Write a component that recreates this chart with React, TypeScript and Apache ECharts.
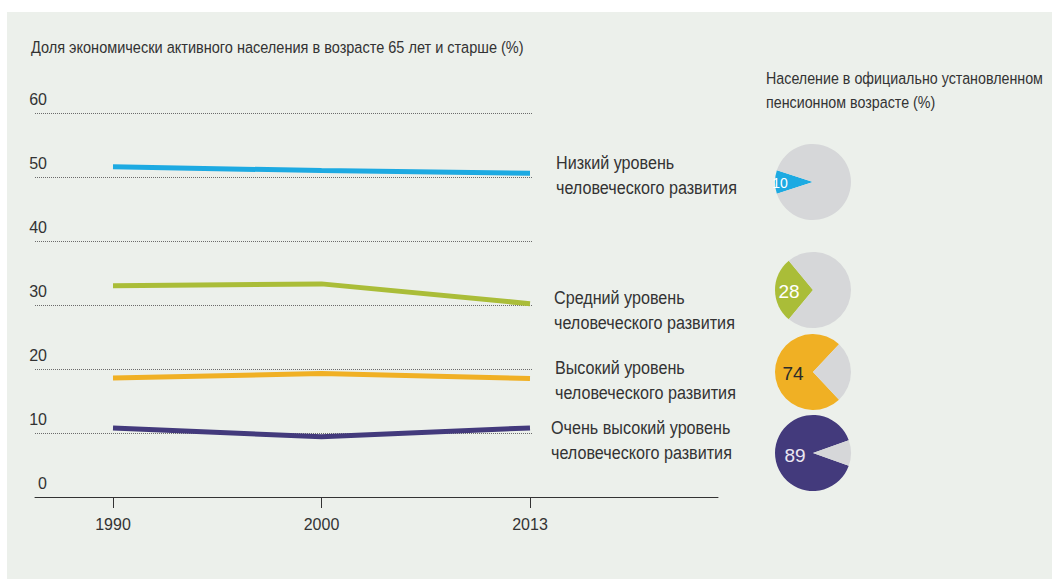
import React, { useEffect, useRef } from "react";
import * as echarts from "echarts";

const years = ["1990", "2000", "2013"];
const seriesNames = [
  "Низкий уровень\nчеловеческого развития",
  "Средний уровень\nчеловеческого развития",
  "Высокий уровень\nчеловеческого развития",
  "Очень высокий уровень\nчеловеческого развития",
];
const lowValues = [51.6, 51.0, 50.6];
const mediumValues = [33.0, 33.3, 30.2];
const highValues = [18.6, 19.3, 18.5];
const veryHighValues = [10.8, 9.4, 10.8];
const pensionShare = [10, 28, 74, 89];
const colors = ["#1DAAE2", "#AABD38", "#F0B024", "#433A7C"];
const pieLabelColors = ["#ffffff", "#ffffff", "#2b2b2b", "#ebe8f2"];
const yTicks = [0, 10, 20, 30, 40, 50, 60];

const leftTitle = "Доля экономически активного населения в возрасте 65 лет и старше (%)";
const rightTitle = "Население в официально установленном\nпенсионном возрасте (%)";

const FONT = "'Liberation Sans', Arial, sans-serif";
const TEXT = "#333333";
const GRAY = "#D6D7D9";

function measure(text: string, font: string): number {
  const ctx = document.createElement("canvas").getContext("2d");
  if (!ctx) return 1;
  ctx.font = font;
  return ctx.measureText(text).width || 1;
}

export default function App() {
  const ref = useRef<HTMLDivElement>(null);

  useEffect(() => {
    if (!ref.current) return;
    const chart = echarts.init(ref.current, undefined, { renderer: "svg" });
    const values = [lowValues, mediumValues, highValues, veryHighValues];
    const labelPos = [
      { x: 556, y: 175 },
      { x: 554, y: 310 },
      { x: 555, y: 380 },
      { x: 551, y: 440 },
    ];
    const pieCenters = [
      [813, 182],
      [813, 290],
      [813, 372],
      [813, 453],
    ];
    const pieLabelOffsets = [
      [-11, 1],
      [-2, 1],
      [2, 1],
      [4, 2],
    ];

    const titleFont = `17px ${FONT}`;
    const titleScale = 493 / measure(leftTitle, titleFont);
    const rightFont = `17px ${FONT}`;
    const rightScale = 277 / measure(rightTitle.split("\n")[0], rightFont);
    const labelFont = `19px ${FONT}`;
    const labelScale = 181 / measure("человеческого развития", labelFont);

    const lineSeries = values.map((v, i) => ({
      type: "line",
      name: seriesNames[i],
      xAxisIndex: 0,
      yAxisIndex: 0,
      data: v,
      symbol: "none",
      lineStyle: { color: colors[i], width: 5 },
      itemStyle: { color: colors[i] },
      silent: true,
      z: 5,
    }));

    const pieSeries = pensionShare.map((p, i) => ({
      type: "pie",
      center: pieCenters[i],
      radius: 38,
      startAngle: 180 + p * 1.8,
      clockwise: true,
      silent: true,
      avoidLabelOverlap: false,
      labelLine: { show: false },
      itemStyle: { borderWidth: 0 },
      data: [
        {
          value: p,
          itemStyle: { color: colors[i] },
          label: {
            show: true,
            position: "inside",
            formatter: String(p),
            color: pieLabelColors[i],
            fontFamily: FONT,
            fontSize: i === 0 ? 14 : 19,
            offset: pieLabelOffsets[i],
          },
        },
        { value: 100 - p, itemStyle: { color: GRAY }, label: { show: false } },
      ],
    }));

    chart.setOption({
      animation: false,
      textStyle: { fontFamily: FONT },
      graphic: [
        {
          type: "rect",
          shape: { x: 7, y: 12, width: 1045, height: 567 },
          style: { fill: "#ECF0EB" },
          z: -10,
          silent: true,
        },
        {
          type: "text",
          x: 31,
          y: 47,
          scaleX: titleScale,
          style: {
            text: leftTitle,
            fill: TEXT,
            font: titleFont,
            verticalAlign: "middle",
          },
        },
        {
          type: "text",
          x: 766,
          y: 90,
          scaleX: rightScale,
          style: {
            text: rightTitle,
            fill: TEXT,
            font: rightFont,
            lineHeight: 24,
            verticalAlign: "middle",
          },
        },
        ...seriesNames.map((n, i) => ({
          type: "text",
          x: labelPos[i].x,
          y: labelPos[i].y,
          scaleX: labelScale,
          style: {
            text: n,
            fill: TEXT,
            font: labelFont,
            lineHeight: 25,
            verticalAlign: "middle",
          },
        })),
      ],
      grid: [
        { left: 113, width: 417, top: 113, height: 384 },
        { left: 35, width: 497, top: 113, height: 384 },
        { left: 35, width: 683, top: 113, height: 384 },
      ],
      xAxis: [
        {
          type: "category",
          gridIndex: 0,
          data: years,
          boundaryGap: false,
          axisLine: { show: false },
          axisTick: { show: true, length: 11, lineStyle: { color: TEXT, width: 1 } },
          axisLabel: { color: TEXT, fontSize: 16, margin: 19, fontFamily: FONT },
          splitLine: { show: false },
        },
        { type: "value", gridIndex: 1, show: false },
        {
          type: "value",
          gridIndex: 2,
          axisLine: { show: true, lineStyle: { color: TEXT, width: 1 } },
          axisTick: { show: false },
          axisLabel: { show: false },
          splitLine: { show: false },
        },
      ],
      yAxis: [
        { type: "value", gridIndex: 0, min: 0, max: 60, show: false },
        {
          type: "value",
          gridIndex: 1,
          min: yTicks[0],
          max: yTicks[yTicks.length - 1],
          interval: 10,
          axisLine: { show: false },
          axisTick: { show: false },
          axisLabel: {
            inside: true,
            margin: 12,
            align: "right",
            verticalAlign: "bottom",
            padding: [0, 0, 6, 0],
            color: TEXT,
            fontSize: 16,
            fontFamily: FONT,
          },
          splitLine: { show: true, lineStyle: { color: "#6b6b6b", type: [1, 1], width: 1 } },
        },
        { type: "value", gridIndex: 2, min: 0, max: 60, show: false },
      ],
      series: [...lineSeries, ...pieSeries],
    });

    return () => chart.dispose();
  }, []);

  return (
    <div
      ref={ref}
      style={{ position: "fixed", left: 0, top: 0, width: 1052, height: 579, background: "#ffffff" }}
    />
  );
}
